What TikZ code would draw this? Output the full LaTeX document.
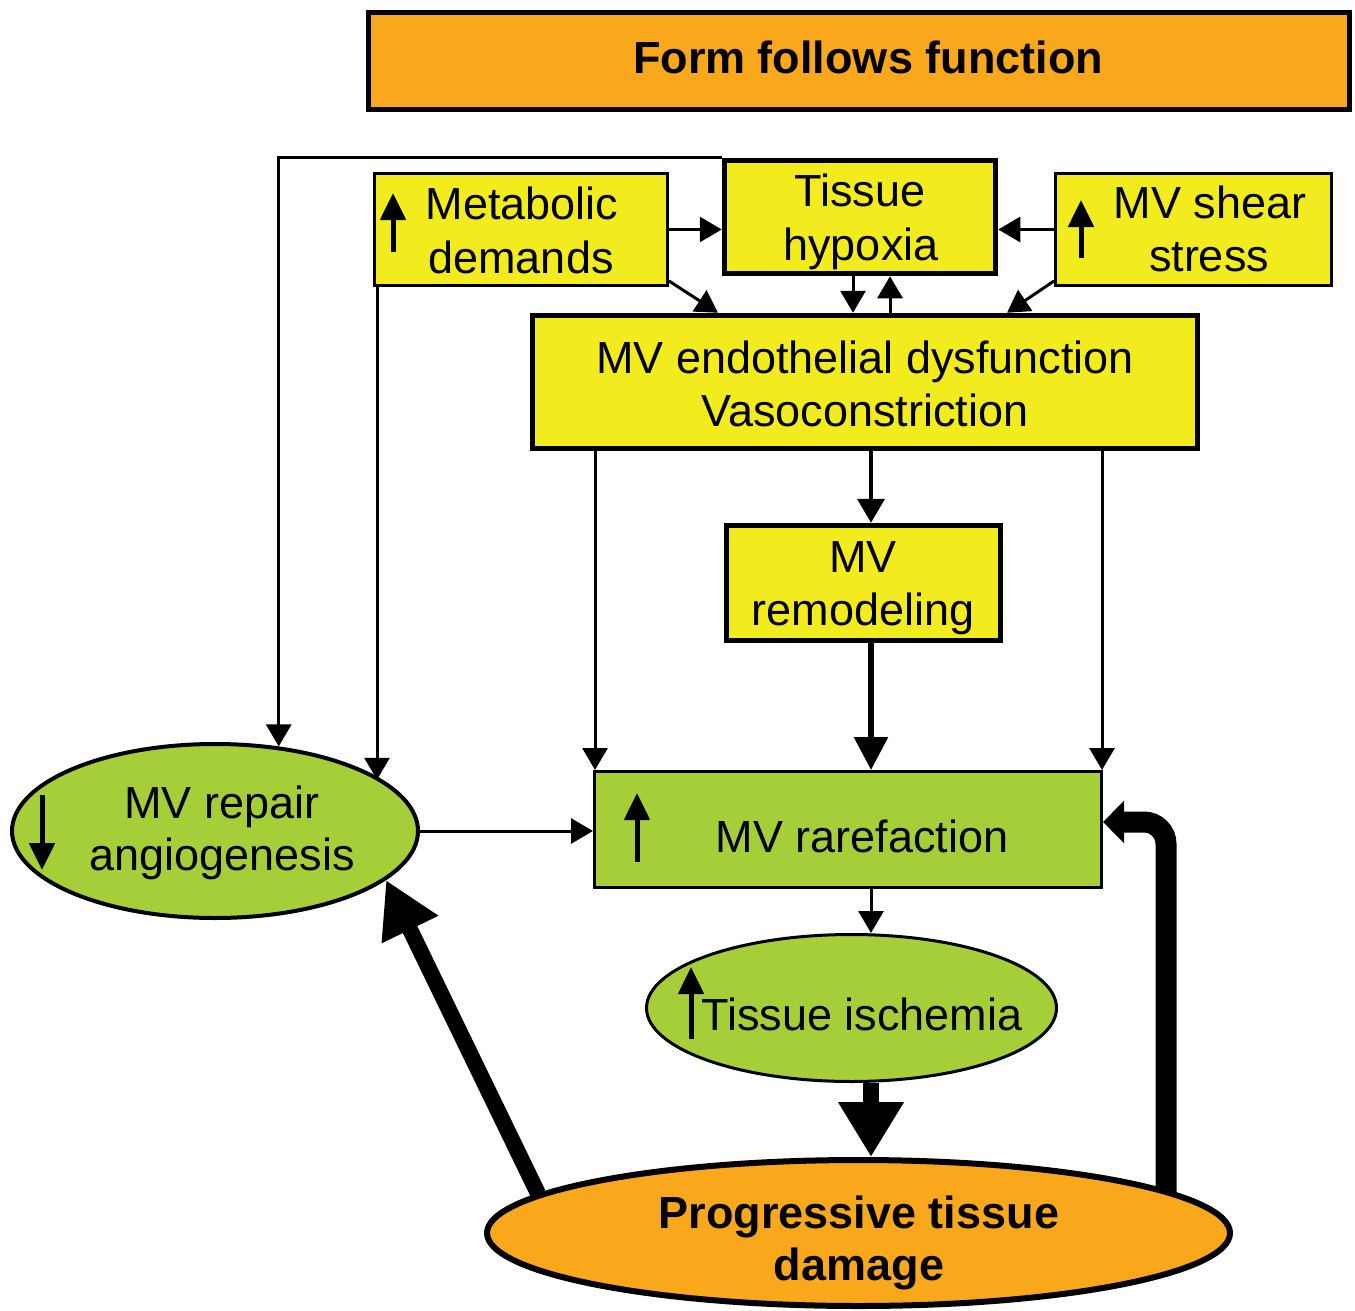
\documentclass[tikz,border=0pt]{standalone}
\usepackage{fontspec}
\setmainfont{Liberation Sans}
\usetikzlibrary{shapes.geometric,arrows.meta,intersections}
\definecolor{boxyellow}{RGB}{242,235,29}
\definecolor{boxgreen}{RGB}{166,206,57}
\definecolor{boxorange}{RGB}{249,168,28}
\tikzset{
  rbox/.style={rectangle, draw, inner sep=0pt, fill=boxyellow},
  thinb/.style={line width=1.5pt},
  thickb/.style={line width=2.75pt},
  ebox/.style={ellipse, draw, inner sep=0pt, fill=boxgreen},
  txt/.style={anchor=base, inner sep=0pt, font=\fontsize{22.5pt}{26.5pt}\selectfont},
  btxt/.style={anchor=base, inner sep=0pt, font=\fontsize{22.5pt}{26.5pt}\selectfont\bfseries},
  arr/.style={line width=1.5pt, -{Triangle[length=11pt,width=12.5pt]}},
  arrmid/.style={line width=2pt, -{Triangle[length=12pt,width=13.5pt]}},
  arrbig/.style={line width=3pt, -{Triangle[length=16.5pt,width=16.5pt]}},
  arrfat/.style={line width=8pt, -{Triangle[length=27.5pt,width=31pt]}},
  arrfatb/.style={line width=8pt, -{Triangle[length=27.5pt,width=29.5pt]}},
  arrbend/.style={line width=10.5pt, rounded corners=11pt, -{Triangle[length=10.5pt,width=20.5pt]}},
  icon/.style={line width=2.5pt, -{Triangle[length=13.5pt,width=12.5pt]}}
}
\begin{document}
\begin{tikzpicture}[x=0.5pt,y=-0.5pt]
\useasboundingbox (0,0) rectangle (1355,1311);

% boxes
\node[rbox, thickb, fill=boxorange, minimum width=490.5pt, minimum height=48.5pt] (fff) at (859,61) {};
\node[rbox, thinb, minimum width=146.5pt, minimum height=56pt] (md) at (521,229.5) {};
\node[rbox, thickb, minimum width=135.5pt, minimum height=56.5pt] (th) at (860,217) {};
\node[rbox, thinb, minimum width=138pt, minimum height=56pt] (ss) at (1193.5,229.5) {};
\node[rbox, thickb, minimum width=332.5pt, minimum height=66.5pt] (en) at (865,382) {};
\node[rbox, thickb, minimum width=137pt, minimum height=57.5pt] (rm) at (863.5,583) {};
\node[rbox, thinb, fill=boxgreen, minimum width=253.5pt, minimum height=58pt] (rf) at (848,829.5) {};
\node[ebox, line width=2pt, minimum width=203pt, minimum height=87pt] (rp) at (215,831) {};
\node[ebox, thinb, minimum width=205pt, minimum height=73.5pt] (is) at (851.5,1008) {};
\node[ebox, line width=3pt, fill=boxorange, minimum width=371.5pt, minimum height=73pt, name path=pdpath] (pd) at (858.5,1233) {};

% texts
\node[btxt] (fffT) at (868,74) {Form follows function};
\node[txt] (mdA) at (522,220) {Metabolic};
\node[txt] (mdB) at (521,273) {demands};
\node[txt] (thA) at (860,206) {Tissue};
\node[txt] (thB) at (861,260) {hypoxia};
\node[txt] (ssA) at (1210,218) {MV shear};
\node[txt] (ssB) at (1209,271) {stress};
\node[txt] (enA) at (865,373) {MV endothelial dysfunction};
\node[txt] (enB) at (865,426) {Vasoconstriction};
\node[txt] (rmA) at (863,572) {MV};
\node[txt] (rmB) at (863,625) {remodeling};
\node[txt] (rfT) at (862,852) {MV rarefaction};
\node[txt] (rpA) at (222,818) {MV repair};
\node[txt] (rpB) at (222,870) {angiogenesis};
\node[txt] (isT) at (862,1030) {Tissue ischemia};
\node[btxt] (pdA) at (859,1228) {Progressive tissue};
\node[btxt] (pdB) at (859,1280) {damage};

% icon arrows
\draw[icon] (393,252) -- (393,193);
\draw[icon] (1081,258) -- (1081,200);
\draw[icon] (637,862) -- (637,793);
\draw[icon] (42,795) -- (42,870);
\draw[icon] (691,1039) -- (691,967);

% helper x positions
\coordinate (c853) at (853,0);
\coordinate (c890) at (890,0);
\coordinate (c871) at (871,0);
\coordinate (c595) at (595,0);
\coordinate (c1102) at (1102,0);
\path[name path=vline] (1166,1100) -- (1166,1300);
\path[name intersections={of=pdpath and vline, by=pdR}];

% connectors
\draw[arr] (md.east) -- (md.east -| th.west);
\draw[arr] (ss.west) -- (ss.west -| th.east);
\draw[arr] ([yshift=3pt]md.south east) -- ([xshift=-73.5pt]en.north);
\draw[arr] ([yshift=3pt]ss.south west) -- ([xshift=71pt]en.north);
\draw[arr] (th.south -| c853) -- (en.north -| c853);
\draw[arr] (en.north -| c890) -- (th.south -| c890);
\draw[arr] (th.north west) -| (rp.53.7);
\draw[arr] ([xshift=2pt]md.south west) -- ([xshift=2pt]md.south west |- rp.17.9);
\draw[arrmid] (en.south -| c871) -- (rm.north -| c871);
\draw[arrbig] (rm.south -| c871) -- (rf.north -| c871);
\draw[arr] (en.south -| c595) -- (rf.north -| c595);
\draw[arr] (en.south -| c1102) -- (rf.north -| c1102);
\draw[arr] (rp.east) -- (rp.east -| rf.west);
\draw[arr] (rf.south -| c871) -- (is.north -| c871);
\draw[arrfat] (is.south -| c871) -- (pd.north -| c871);
\draw[arrfatb] (pd.173.8) -- (rp.-16.8);
\draw[arrbend] (pdR) |- ([yshift=3.75pt]rf.east);
\end{tikzpicture}
\end{document}
